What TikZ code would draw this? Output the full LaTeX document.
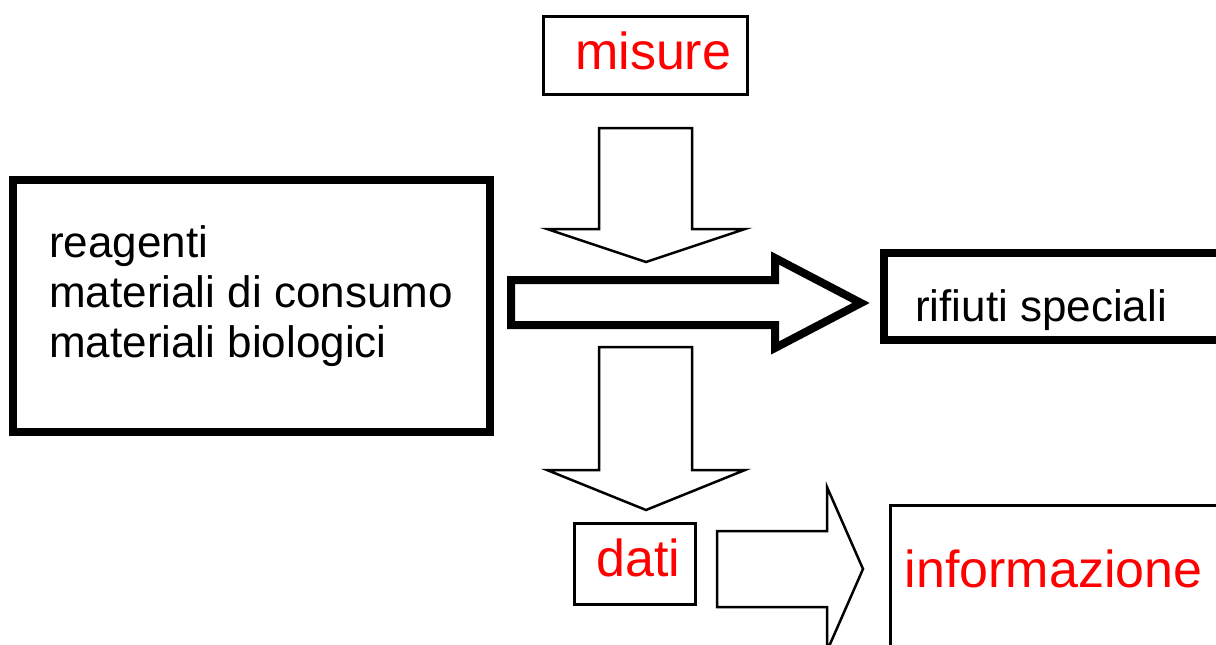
\documentclass[tikz,border=0pt]{standalone}
\usepackage{fontspec}
\setmainfont{Liberation Sans}
\begin{document}
\begin{tikzpicture}[x=1pt,y=-1pt,
  thickbox/.style={draw=black,line width=8pt,line join=miter},
  thinbox/.style={draw=black,line width=3pt,line join=miter},
  thinarrow/.style={draw=black,fill=white,line width=2.5pt,line join=miter},
  thickarrow/.style={draw=black,fill=white,line width=8pt,line join=miter,miter limit=20},
  blacklabel/.style={anchor=base west,inner sep=0pt,text=black,font=\fontsize{44}{50}\selectfont},
  redlabel/.style={anchor=base west,inner sep=0pt,text=red,font=\fontsize{52}{60}\selectfont}]
\useasboundingbox (0,0) rectangle (1216,645);
\clip (0,0) rectangle (1216,645);

% boxes
\draw[thickbox] (13,180) rectangle (490,432);
\draw[thickbox] (1240,253) -- (884,253) -- (884,340) -- (1240,340);
\draw[thinbox] (543.5,16.5) rectangle (747.5,94.5);
\draw[thinbox] (574.5,523.5) rectangle (695.5,604.5);
\draw[thinbox] (890.5,670) -- (890.5,505.5) -- (1240,505.5);

% block arrows
\draw[thinarrow] (599,128) -- (692,128) -- (692,229) -- (745,229) -- (646,262)
  -- (547,229) -- (599,229) -- cycle;
\draw[thinarrow] (599,347) -- (692,347) -- (692,470) -- (745,470) -- (646,510)
  -- (547,470) -- (599,470) -- cycle;
\draw[thickarrow] (511,280) -- (775,280) -- (775,258) -- (861,303) -- (775,348)
  -- (775,325) -- (511,325) -- cycle;
\draw[thinarrow] (717,531) -- (827,531) -- (827,487) -- (863,569) -- (827,651)
  -- (827,607) -- (717,607) -- cycle;

% labels
\node[blacklabel] (reagenti) at (49,257) {reagenti};
\node[blacklabel] (consumo) at (49,307) {materiali di consumo};
\node[blacklabel] (biologici) at (49,357) {materiali biologici};
\node[blacklabel] (rifiuti) at (915,321) {rifiuti speciali};
\node[redlabel] (misure) at (575,69) {misure};
\node[redlabel] (dati) at (596,576) {dati};
\node[redlabel] (informazione) at (904.5,587) {informazione};
\end{tikzpicture}
\end{document}
